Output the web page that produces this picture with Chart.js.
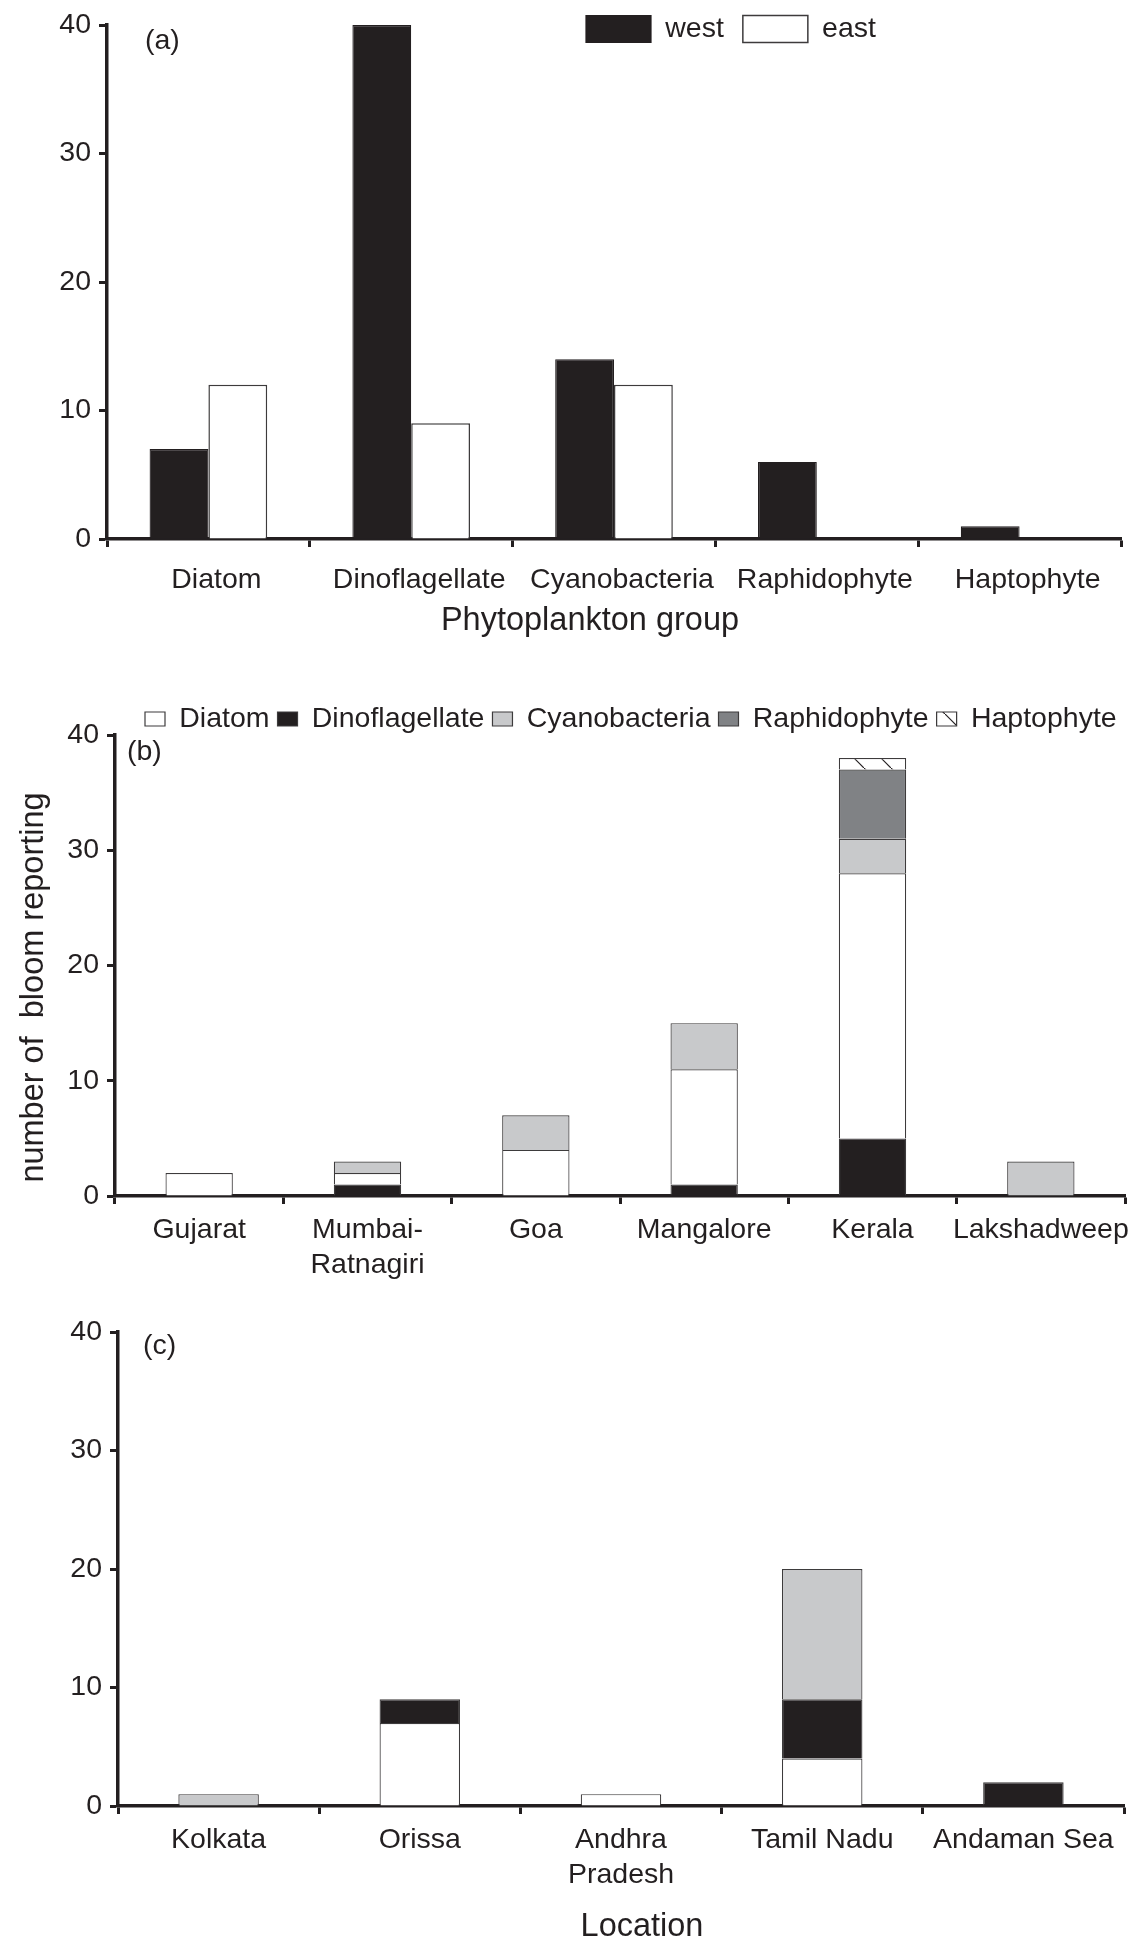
<!DOCTYPE html>
<html>
<head>
<meta charset="utf-8">
<title>Phytoplankton bloom reports</title>
<script src="https://cdn.jsdelivr.net/npm/chart.js@4.4.1/dist/chart.umd.min.js"></script>
<style>
  body { margin: 0; background: #fff; }
  #page { position: relative; width: 1139px; height: 1944px; }
  canvas { position: absolute; left: 0; }
</style>
</head>
<body>
<div id="page">
  <canvas id="chartA" width="1139" height="660" style="top:0"></canvas>
  <canvas id="chartB" width="1139" height="620" style="top:660px"></canvas>
  <canvas id="chartC" width="1139" height="664" style="top:1280px"></canvas>
</div>
<script>
// panel (a): blooms per phytoplankton group, west vs east coast
const groupLabels = ['Diatom', 'Dinoflagellate', 'Cyanobacteria', 'Raphidophyte', 'Haptophyte'];
const westCounts = [7, 40, 14, 6, 1];
const eastCounts = [12, 9, 12, 0, 0];

// panel (b): west coast locations (stacked)
const westLocations = ['Gujarat', ['Mumbai-', 'Ratnagiri'], 'Goa', 'Mangalore', 'Kerala', 'Lakshadweep'];
const westDino = [0, 1, 0, 1, 5, 0];
const westDiatom = [2, 1, 4, 10, 23, 0];
const westCyano = [0, 1, 3, 4, 3, 3];
const westRaphido = [0, 0, 0, 0, 6, 0];
const westHapto = [0, 0, 0, 0, 1, 0];

// panel (c): east coast locations (stacked)
const eastLocations = ['Kolkata', 'Orissa', ['Andhra', 'Pradesh'], 'Tamil Nadu', 'Andaman Sea'];
const eastDiatom = [0, 7, 1, 4, 0];
const eastDino = [0, 2, 0, 5, 2];
const eastCyano = [1, 0, 0, 11, 0];

const yTickValues = [0, 10, 20, 30, 40];

const INK = '#231f20';
const WHITE = '#ffffff';
const LIGHT = '#c8c9cb';
const DARK = '#808285';
const EDGE = '#3d3b3c';
const FONT = 28.5;

Chart.defaults.font.family = "'Liberation Sans', Arial, sans-serif";
Chart.defaults.color = INK;
Chart.defaults.animation = false;

function hatch() {
    const c = document.createElement('canvas');
    c.width = c.height = 27;
    const g = c.getContext('2d');
    g.fillStyle = WHITE;
    g.fillRect(0, 0, 27, 27);
    g.strokeStyle = INK;
    g.lineWidth = 1.2;
    g.beginPath();
    g.moveTo(-2, -2);
    g.lineTo(29, 29);
    g.stroke();
    return g.createPattern(c, 'repeat');
}

// legend keeps (almost) no layout space and is placed by hand
const placeLegend = {
    id: 'placeLegend',
    afterLayout(chart, args, opts) {
        if (!chart.legend || opts.left === undefined) return;
        chart.legend.left = opts.left;
        chart.legend.top = opts.top;
        chart.legend.right = chart.width;
        chart.legend.bottom = chart.height;
    }
};

// the (a) / (b) / (c) tag inside each plot
const panelTag = {
    id: 'panelTag',
    afterDraw(chart, args, opts) {
        const {ctx, chartArea} = chart;
        ctx.save();
        ctx.font = FONT + "px 'Liberation Sans', Arial, sans-serif";
        ctx.fillStyle = INK;
        ctx.textBaseline = 'middle';
        ctx.fillText(opts.text, chartArea.left + opts.dx, chartArea.top + opts.dy);
        ctx.restore();
    }
};

// axis titles in the original sit a little off the axis centre
function nudgeTitle(s, dx, dy) {
    if (s._nudged) return;
    const draw = s.drawTitle;
    s.drawTitle = function () {
        this.ctx.save();
        this.ctx.translate(dx, dy);
        draw.call(this);
        this.ctx.restore();
    };
    s._nudged = true;
}

function yScale(width, title, stacked, titleShift) {
    return {
        stacked: !!stacked,
        min: 0,
        max: 40,
        z: 1,
        afterFit: s => {
            s.width = width;
            if (titleShift) nudgeTitle(s, 0, titleShift);
        },
        afterBuildTicks: s => { s.ticks = yTickValues.map(v => ({ value: v })); },
        border: { display: true, color: INK, width: 3.5 },
        grid: { drawOnChartArea: false, drawTicks: true, tickLength: 8, tickWidth: 3, tickColor: INK },
        ticks: { padding: 8, font: { size: FONT }, color: INK },
        title: title || { display: false }
    };
}

function xScale(height, tickPad, labelOffset, title, stacked, titleShift) {
    return {
        stacked: !!stacked,
        z: 1,
        afterFit: s => {
            s.height = height;
            if (titleShift) nudgeTitle(s, titleShift, 0);
        },
        border: { display: true, color: INK, width: 3.5 },
        grid: { offset: true, drawOnChartArea: false, drawTicks: true, tickLength: 8, tickWidth: 3, tickColor: INK },
        ticks: {
            padding: tickPad,
            labelOffset: labelOffset,
            maxRotation: 0,
            autoSkip: false,
            font: { size: FONT, lineHeight: 1.25 },
            color: INK
        },
        title: title || { display: false }
    };
}

function bar(label, data, fill, extra) {
    return Object.assign({
        label: label,
        data: data,
        backgroundColor: fill,
        borderColor: EDGE,
        borderWidth: 1.2
    }, extra || {});
}

// (a)
new Chart(document.getElementById('chartA'), {
    type: 'bar',
    data: {
        labels: groupLabels,
        datasets: [
            bar('west', westCounts, INK, { borderColor: INK }),
            bar('east', eastCounts, WHITE, { borderWidth: 1.5 })
        ]
    },
    options: {
        responsive: false,
        events: [],
        categoryPercentage: 0.58,
        barPercentage: 1,
        layout: { padding: { left: 0, right: 18, top: 20, bottom: 11 } },
        scales: {
            x: xScale(110, 15, 8, {
                display: true,
                text: 'Phytoplankton group',
                font: { size: 32.5, lineHeight: 1 },
                padding: { top: 0, bottom: 11.75 },
                color: INK
            }, false, -24),
            y: yScale(107)
        },
        plugins: {
            tooltip: { enabled: false },
            legend: {
                position: 'top',
                align: 'start',
                maxHeight: 1,
                labels: { boxWidth: 65, boxHeight: 27, padding: 19, font: { size: FONT }, color: INK }
            },
            placeLegend: { left: 567, top: -4.25 },
            panelTag: { text: '(a)', dx: 38, dy: 16.5 }
        }
    },
    plugins: [placeLegend, panelTag]
});

// (b)
new Chart(document.getElementById('chartB'), {
    type: 'bar',
    data: {
        labels: westLocations,
        datasets: [
            bar('Dinoflagellate', westDino, INK),
            bar('Diatom', westDiatom, WHITE),
            bar('Cyanobacteria', westCyano, LIGHT),
            bar('Raphidophyte', westRaphido, DARK),
            bar('Haptophyte', westHapto, hatch())
        ]
    },
    options: {
        responsive: false,
        events: [],
        categoryPercentage: 0.4,
        barPercentage: 1,
        layout: { padding: { left: 0, right: 14, top: 74, bottom: 0 } },
        scales: {
            x: xScale(84, 8.2, 0, null, true),
            y: yScale(115, {
                display: true,
                text: 'number of  bloom reporting',
                font: { size: 32.5, lineHeight: 1 },
                padding: { top: 17.75, bottom: 0 },
                color: INK
            }, true, 22)
        },
        plugins: {
            tooltip: { enabled: false },
            legend: {
                position: 'top',
                align: 'start',
                maxHeight: 1,
                labels: {
                    boxWidth: 20,
                    boxHeight: 14,
                    padding: 8,
                    font: { size: FONT },
                    color: INK,
                    sort: (a, b) => groupLabels.indexOf(a.text) - groupLabels.indexOf(b.text)
                }
            },
            placeLegend: { left: 137, top: 36.75 },
            panelTag: { text: '(b)', dx: 12, dy: 17.5 }
        }
    },
    plugins: [placeLegend, panelTag]
});

// (c)
new Chart(document.getElementById('chartC'), {
    type: 'bar',
    data: {
        labels: eastLocations,
        datasets: [
            bar('Diatom', eastDiatom, WHITE),
            bar('Dinoflagellate', eastDino, INK),
            bar('Cyanobacteria', eastCyano, LIGHT)
        ]
    },
    options: {
        responsive: false,
        events: [],
        categoryPercentage: 0.4,
        barPercentage: 1,
        layout: { padding: { left: 0, right: 15, top: 52, bottom: 0 } },
        scales: {
            x: xScale(138, 8.2, 0, {
                display: true,
                text: 'Location',
                font: { size: 32.5, lineHeight: 1 },
                padding: { top: 0, bottom: 0.25 },
                color: INK
            }, true, 21),
            y: yScale(118, null, true)
        },
        plugins: {
            tooltip: { enabled: false },
            legend: { display: false },
            panelTag: { text: '(c)', dx: 25, dy: 14.5 }
        }
    },
    plugins: [placeLegend, panelTag]
});
</script>
</body>
</html>
